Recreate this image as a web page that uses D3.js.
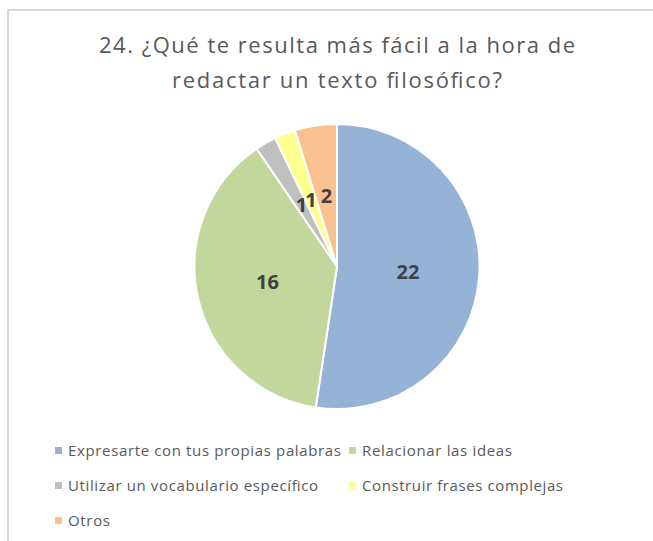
<!DOCTYPE html>
<html>
<head>
<meta charset="utf-8">
<script src="https://cdn.jsdelivr.net/npm/d3@7"></script>
<style>
  html, body { margin: 0; padding: 0; background: #fff; }
  svg { display: block; }
  text { font-family: "Open Sans", Lato, sans-serif; }
</style>
</head>
<body>
<svg id="chart" width="653" height="541"></svg>
<script>
const titleLines = ["24. ¿Qué te resulta más fácil a la hora de", "redactar un texto filosófico?"];
const categories = ["Expresarte con tus propias palabras", "Relacionar las ideas", "Utilizar un vocabulario específico", "Construir frases complejas", "Otros"];
const values = [22, 16, 1, 1, 2];
const colors = ["#95b3d7", "#c3d69b", "#bfbfbf", "#ffff8f", "#fac090"];

// layout constants (pixel widths of text runs as rendered in the original)
const titleWidths = [476, 330];
const legendWidths = [273, 150, 250, 201, 42];
const legendPos = [[55, 456], [349, 456], [55, 491], [349, 491], [55, 526]];

const svg = d3.select("#chart");
const W = 653, H = 541;

// chart frame
svg.append("rect").attr("x", 8).attr("y", 10).attr("width", W + 10).attr("height", H + 10)
  .attr("fill", "#fff").attr("stroke", "#d9d9d9").attr("stroke-width", 2);

// title
svg.append("g").selectAll("text").data(titleLines).join("text")
  .attr("x", 337).attr("y", (d, i) => 53 + i * 35)
  .attr("text-anchor", "middle").attr("fill", "#595959")
  .attr("font-size", 22)
  .attr("textLength", (d, i) => titleWidths[i]).attr("lengthAdjust", "spacing")
  .text(d => d);

const cx = 337, cy = 266.5, r = 142.5;
const data = categories.map((c, i) => ({ cat: c, value: values[i], color: colors[i] }));
const pie = d3.pie().value(d => d.value).sort(null);
const arc = d3.arc().innerRadius(0).outerRadius(r);
const arcs = pie(data);

const g = svg.append("g").attr("transform", `translate(${cx},${cy})`);
g.selectAll("path").data(arcs).join("path")
  .attr("d", arc).attr("fill", d => d.data.color)
  .attr("stroke", "#fff").attr("stroke-width", 2).attr("stroke-linejoin", "round");

g.selectAll("text.lbl").data(arcs).join("text").attr("class", "lbl")
  .attr("transform", d => { const c = arc.centroid(d); return `translate(${c[0]},${c[1] + 7})`; })
  .attr("text-anchor", "middle").attr("font-weight", "bold").attr("font-size", 20)
  .attr("fill", "#404040").text(d => d.data.value);

// legend
const lg = svg.append("g").selectAll("g").data(data).join("g")
  .attr("transform", (d, i) => `translate(${legendPos[i][0]},${legendPos[i][1]})`);
lg.append("rect").attr("x", 0).attr("y", -9).attr("width", 7).attr("height", 7).attr("fill", d => d.color);
lg.append("text").attr("x", 13).attr("y", 0).attr("fill", "#595959").attr("font-size", 15)
  .attr("textLength", (d, i) => legendWidths[i]).attr("lengthAdjust", "spacing")
  .text(d => d.cat);
</script>
</body>
</html>
